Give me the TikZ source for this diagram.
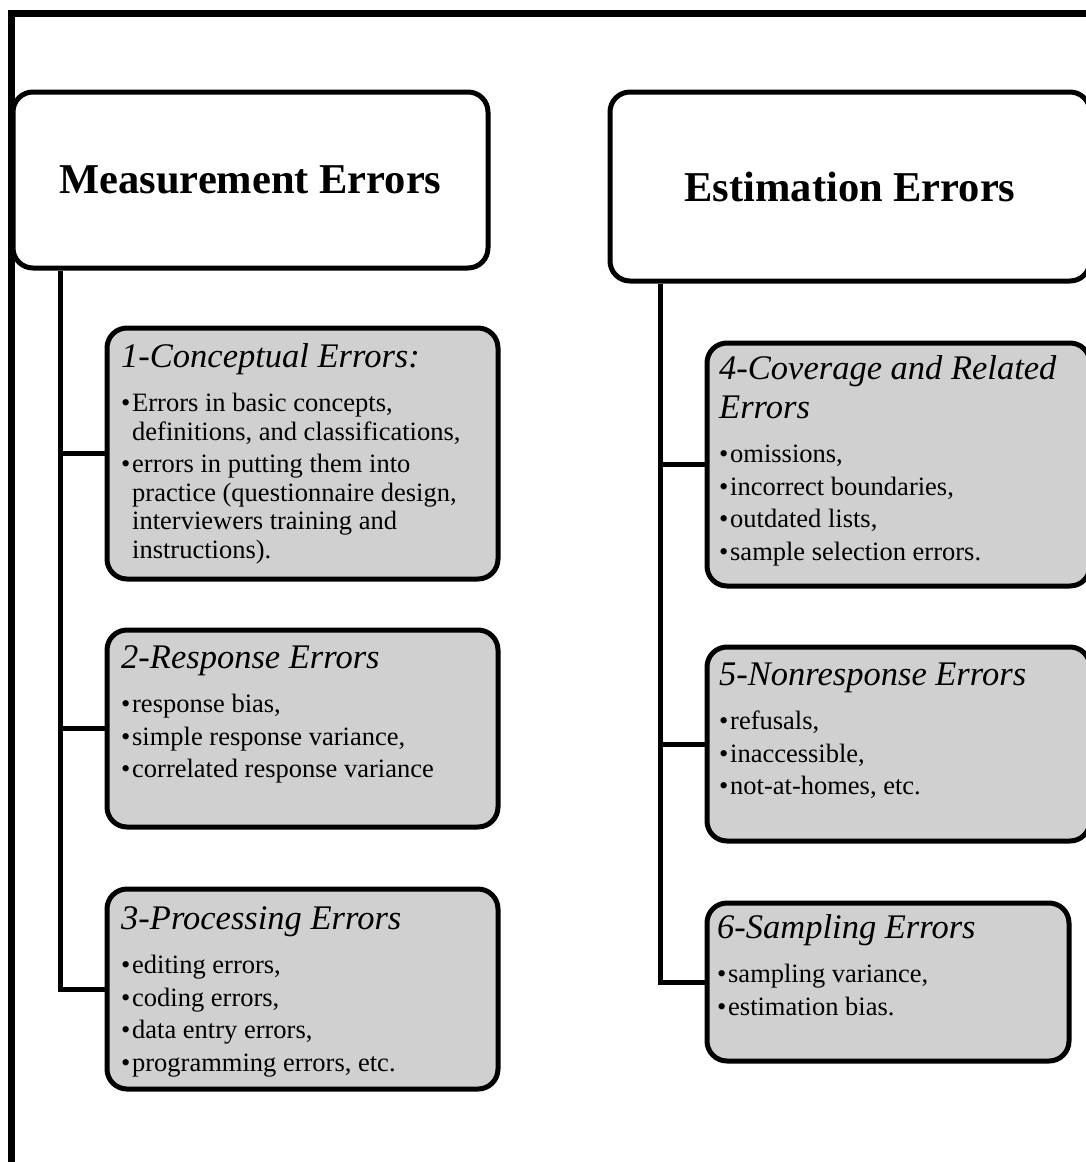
\documentclass[tikz,border=0pt]{standalone}
\usepackage{fontspec}
\setmainfont{Liberation Serif}
\definecolor{boxgray}{RGB}{208,208,208}
\newcommand{\bitem}[1]{\par\noindent\hangindent=11pt\hangafter=1\makebox[11pt][l]{\textbullet}#1\par}
\newcommand{\btitle}[1]{{\fontsize{34.5}{39}\selectfont\itshape #1\par}\vspace{12pt}}
\newcommand{\boxtext}[2]{\parbox[t]{#1}{\raggedright\fontsize{26.5}{28.5}\selectfont\setlength{\parskip}{4pt}#2}}
\begin{document}
\begin{tikzpicture}[x=1pt,y=-1pt,
  frame/.style={line width=7pt,line join=miter,line cap=rect},
  conn/.style={line width=5pt,line join=miter},
  headbox/.style={draw,fill=white,line width=5pt,rounded corners=20pt,inner sep=0pt,
    font=\fontsize{42.5}{50}\selectfont\bfseries},
  gbox/.style={draw,fill=boxgray,line width=5pt,rounded corners=20pt,inner sep=0pt},
  btxt/.style={anchor=base west,inner sep=0pt}]
\useasboundingbox (0,0) rectangle (1086,1162);
\clip (0,0) rectangle (1086,1162);
\fill[white] (0,0) rectangle (1086,1162);
% outer frame
\draw[frame] (11,1190) -- (11,13) -- (1110,13);
% trunk x positions
\coordinate (lt) at (60,0);
\coordinate (rt) at (660,0);
% heading boxes
\node[headbox,minimum width=475pt,minimum height=176pt] (m) at (250.5,180) {Measurement Errors};
\node[headbox,minimum width=480pt,minimum height=189pt] (e) at (850,186.5) {Estimation Errors};
% gray boxes
\node[gbox,minimum width=391pt,minimum height=251pt] (b1) at (302.5,453.5) {};
\node[gbox,minimum width=391pt,minimum height=197pt] (b2) at (302.5,728.5) {};
\node[gbox,minimum width=391pt,minimum height=200pt] (b3) at (302.5,989) {};
\node[gbox,minimum width=383pt,minimum height=243pt] (b4) at (898.5,464.5) {};
\node[gbox,minimum width=383pt,minimum height=194pt] (b5) at (898.5,744) {};
\node[gbox,minimum width=362pt,minimum height=158pt] (b6) at (888,982) {};
% connectors
\draw[conn] (m.south -| lt) |- (b3.west);
\draw[conn] (b1.west -| lt) -- (b1.west);
\draw[conn] (b2.west -| lt) -- (b2.west);
\draw[conn] (e.south -| rt) |- (b6.west);
\draw[conn] (b4.west -| rt) -- (b4.west);
\draw[conn] (b5.west -| rt) -- (b5.west);
% texts
\node[btxt] (t1) at (121,367) {\boxtext{370pt}{\btitle{1-Conceptual Errors:}%
  \bitem{Errors in basic concepts,\newline definitions, and classifications,}%
  \bitem{errors in putting them into\newline practice (questionnaire design,\newline interviewers training and\newline instructions).}}};
\node[btxt] (t2) at (121,668) {\boxtext{370pt}{\btitle{2-Response Errors}%
  \bitem{response bias,}\bitem{simple response variance,}\bitem{correlated response variance}}};
\node[btxt] (t3) at (121,929) {\boxtext{370pt}{\btitle{3-Processing Errors}%
  \bitem{editing errors,}\bitem{coding errors,}\bitem{data entry errors,}\bitem{programming errors, etc.}}};
\node[btxt] (t4) at (719,379) {\boxtext{362pt}{\btitle{4-Coverage and Related\newline Errors}%
  \bitem{omissions,}\bitem{incorrect boundaries,}\bitem{outdated lists,}\bitem{sample selection errors.}}};
\node[btxt] (t5) at (719,685) {\boxtext{362pt}{\btitle{5-Nonresponse Errors}%
  \bitem{refusals,}\bitem{inaccessible,}\bitem{not-at-homes, etc.}}};
\node[btxt] (t6) at (717,938) {\boxtext{345pt}{\btitle{6-Sampling Errors}%
  \bitem{sampling variance,}\bitem{estimation bias.}}};
\end{tikzpicture}
\end{document}
